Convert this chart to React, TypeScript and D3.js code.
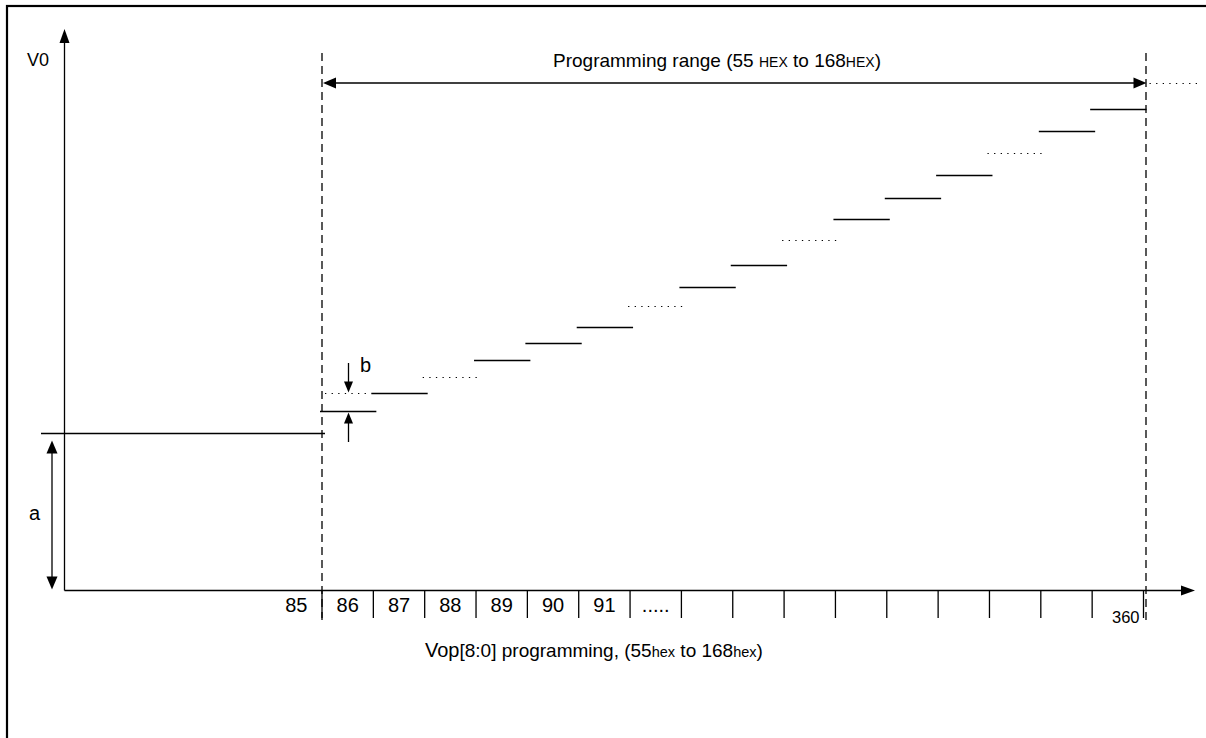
import React from "react";
import * as d3 from "d3";

// ---- data ----
const STEP_LEVELS = [179, 197, 213, 230, 247, 263, 284, 303, 325, 350, 371, 392, 415, 437, 459, 481, 507];
const STEP_STYLES = ["solid", "solid", "dotted", "solid", "solid", "solid", "dotted", "solid", "solid", "dotted", "solid", "solid", "solid", "dotted", "solid", "solid", "dotted"];
const BASE_LEVEL = 157; // level "a"
const CELL_LABELS = ["85", "86", "87", "88", "89", "90", "91", "....."]; // cells -1 .. 6
const END_LABEL = "360";
const TICK_COUNT = 17; // tick indices 0..16

const W = 1206;
const H = 738;
const AXIS_X = 64.5;
const AXIS_Y = 590.5;
const FONT = "'Liberation Sans', Arial, sans-serif";

const x = d3.scaleLinear().domain([0, 16]).range([322, 1143.5]);
const y = d3.scaleLinear().domain([0, 560]).range([AXIS_Y, 30.5]);

function Arrow({ tx, ty, dir, len = 13, half = 5 }: { tx: number; ty: number; dir: "up" | "down" | "left" | "right"; len?: number; half?: number }) {
  let pts: [number, number][] = [];
  if (dir === "up") pts = [[tx, ty], [tx - half, ty + len], [tx + half, ty + len]];
  if (dir === "down") pts = [[tx, ty], [tx - half, ty - len], [tx + half, ty - len]];
  if (dir === "left") pts = [[tx, ty], [tx + len, ty - half], [tx + len, ty + half]];
  if (dir === "right") pts = [[tx, ty], [tx - len, ty - half], [tx - len, ty + half]];
  return <polygon points={pts.map((p) => p.join(",")).join(" ")} fill="#000" />;
}

export default function App() {
  const stroke = "#000";
  const sw = 1.3;
  const ticks = d3.range(TICK_COUNT);
  const step = x(1) - x(0);
  const rangeY = 83;
  const x0 = x(0);
  const x16 = x(16);
  return (
    <svg width={W} height={H} style={{ position: "absolute", left: 0, top: 0, background: "#fff" }} fontFamily={FONT}>
      <rect x={0} y={0} width={W} height={H} fill="#fff" />
      {/* frame */}
      <rect x={7} y={6} width={W + 20} height={H + 20} fill="none" stroke="#000" strokeWidth={2.2} />

      {/* axes */}
      <line x1={AXIS_X} y1={AXIS_Y} x2={AXIS_X} y2={40} stroke={stroke} strokeWidth={sw} />
      <Arrow tx={AXIS_X} ty={29} dir="up" len={14} half={5} />
      <line x1={AXIS_X} y1={AXIS_Y} x2={1182} y2={AXIS_Y} stroke={stroke} strokeWidth={sw} />
      <Arrow tx={1195} ty={AXIS_Y} dir="right" len={14} half={5} />
      <text x={27} y={66} fontSize={18}>V0</text>

      {/* dashed bounds */}
      <line x1={x0} y1={53} x2={x0} y2={620} stroke={stroke} strokeWidth={sw} strokeDasharray="8,5" />
      <line x1={x16 + 2.5} y1={53} x2={x16 + 2.5} y2={620} stroke={stroke} strokeWidth={sw} strokeDasharray="8,5" />

      {/* programming range arrow */}
      <line x1={x0 + 8} y1={rangeY} x2={x16 - 6} y2={rangeY} stroke={stroke} strokeWidth={sw} />
      <Arrow tx={x0 + 1} ty={rangeY} dir="left" len={13} half={5.5} />
      <Arrow tx={x16 + 3} ty={rangeY} dir="right" len={13} half={5.5} />
      <text x={553} y={67} fontSize={19}>
        Programming range (55 <tspan fontSize={14}>HEX</tspan> to 168<tspan fontSize={14}>HEX</tspan>)
      </text>

      {/* ticks */}
      {ticks.map((i) => (
        <line key={i} x1={x(i)} y1={AXIS_Y} x2={x(i)} y2={618} stroke={stroke} strokeWidth={sw} />
      ))}
      {CELL_LABELS.map((l, k) => {
        const c = k - 1;
        return (
          <text key={l} x={x(c) + step / 2} y={612} fontSize={20} textAnchor="middle">
            {l}
          </text>
        );
      })}
      <text x={x(16) - 4} y={623} fontSize={16.5} textAnchor="end">
        {END_LABEL}
      </text>

      {/* base level a */}
      <line x1={41} y1={y(BASE_LEVEL)} x2={x0 + 3} y2={y(BASE_LEVEL)} stroke={stroke} strokeWidth={sw} />
      <line x1={52} y1={y(BASE_LEVEL) + 14} x2={52} y2={AXIS_Y - 12} stroke={stroke} strokeWidth={sw} />
      <Arrow tx={52} ty={y(BASE_LEVEL) + 7} dir="up" len={13} half={5.5} />
      <Arrow tx={52} ty={AXIS_Y - 1} dir="down" len={13} half={5.5} />
      <text x={29} y={520} fontSize={20}>a</text>

      {/* steps */}
      {STEP_LEVELS.map((v, i) => {
        const dotted = STEP_STYLES[i] === "dotted";
        const xa = i === 16 ? x(16) + 6 : x(i) - 2;
        const xb = i === 16 ? x(16) + 58 : x(i + 1) + 3;
        return (
          <line
            key={i}
            x1={xa}
            y1={y(v)}
            x2={xb}
            y2={y(v)}
            stroke={stroke}
            strokeWidth={dotted ? 1.2 : 1.5}
            strokeDasharray={dotted ? "1.3,5.3" : undefined}
          />
        );
      })}
      {/* b reference dotted extension */}
      <line x1={x0 + 3} y1={y(STEP_LEVELS[1])} x2={x(1) - 2} y2={y(STEP_LEVELS[1])} stroke={stroke} strokeWidth={1.2} strokeDasharray="1.3,5.3" />
      {/* b arrows */}
      <line x1={348.5} y1={363} x2={348.5} y2={y(STEP_LEVELS[1]) - 8} stroke={stroke} strokeWidth={sw} />
      <Arrow tx={348.5} ty={y(STEP_LEVELS[1]) - 1} dir="down" len={11} half={4.5} />
      <line x1={348.5} y1={442} x2={348.5} y2={y(STEP_LEVELS[0]) + 8} stroke={stroke} strokeWidth={sw} />
      <Arrow tx={348.5} ty={y(STEP_LEVELS[0]) + 1} dir="up" len={11} half={4.5} />
      <text x={360} y={372} fontSize={20}>b</text>

      {/* bottom caption */}
      <text x={425} y={657} fontSize={20}>
        Vop<tspan fontSize={19}>[8:0] programming, (55</tspan><tspan fontSize={14.5}>hex</tspan>
        <tspan fontSize={19}> to 168</tspan><tspan fontSize={14.5}>hex</tspan><tspan fontSize={19}>)</tspan>
      </text>
    </svg>
  );
}
